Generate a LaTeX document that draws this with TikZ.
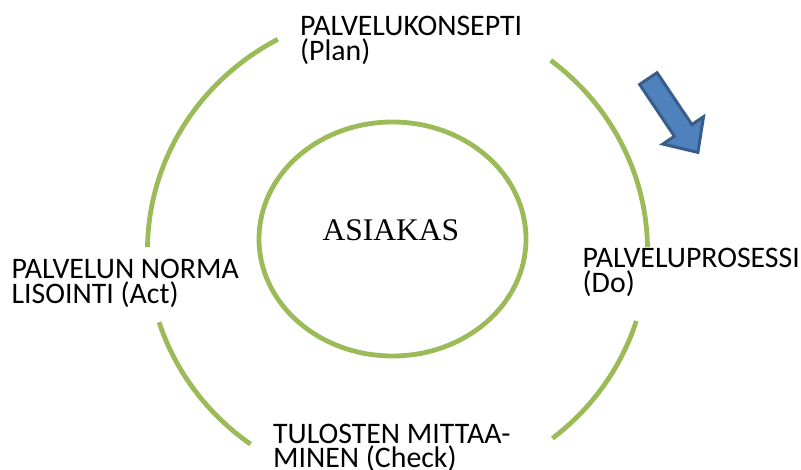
\documentclass[tikz,border=0pt]{standalone}
\usepackage{fontspec}
\usetikzlibrary{calc}
\newfontfamily\lblfont{Carlito}
\newfontfamily\ctrfont{Liberation Serif}
\definecolor{ringgreen}{HTML}{9BBB59}
\definecolor{arrowfill}{HTML}{4F81BD}
\definecolor{arrowline}{HTML}{385D8A}
\newcommand{\twolbl}[2]{\vtop{\hbox{#1}\hbox{#2}}}
\tikzset{
  ring/.style={draw=ringgreen, line width=4.8pt, line cap=butt},
  lbl/.style={anchor=base west, inner sep=0pt, font=\lblfont\fontsize{29.8}{24.5}\selectfont},
  ctr/.style={anchor=base, inner sep=0pt, font=\ctrfont\fontsize{31.5}{36}\selectfont},
  blockarrow/.style={draw=arrowline, fill=arrowfill, line width=3pt, line join=miter}
}
\begin{document}
\begin{tikzpicture}[x=1pt,y=-1pt]
\useasboundingbox (0,0) rectangle (801,470);
\coordinate (oc) at (397.5,250);
\coordinate (ic) at (392.5,239);
% outer ring arcs
\draw[ring] ($(oc)+(-52.2:250 and 240)$) arc[start angle=-52.2, end angle=-0.7, x radius=250, y radius=240];
\draw[ring] ($(oc)+(17.2:250 and 240)$) arc[start angle=17.2, end angle=51.7, x radius=250, y radius=240];
\draw[ring] ($(oc)+(126:250 and 240)$) arc[start angle=126, end angle=162.5, x radius=250, y radius=240];
\draw[ring] ($(oc)+(-179.3:250 and 240)$) arc[start angle=-179.3, end angle=-118.6, x radius=250, y radius=240];
% inner ellipse
\draw[ring] (ic) ellipse[x radius=133.5, y radius=117];
\node[ctr] (asiakas) at (391,240.5) {ASIAKAS};
% labels
\node[lbl] (plan) at (300,36) {\twolbl{PALVELUKONSEPTI}{(Plan)}};
\node[lbl] (do) at (582.5,268) {\twolbl{PALVELUPROSESSI}{(Do)}};
\node[lbl] (check) at (273,443.5) {\twolbl{TULOSTEN MITTAA-}{MINEN (Check)}};
\node[lbl] (act) at (11.5,279) {\twolbl{PALVELUN NORMA}{LISOINTI (Act)}};
% block arrow
\draw[blockarrow] (657.06,72.7) -- (691.87,124.57) -- (703.49,116.77) -- (697.91,152.42)
  -- (662.81,144.07) -- (674.43,136.27) -- (639.62,84.4) -- cycle;
\end{tikzpicture}
\end{document}
